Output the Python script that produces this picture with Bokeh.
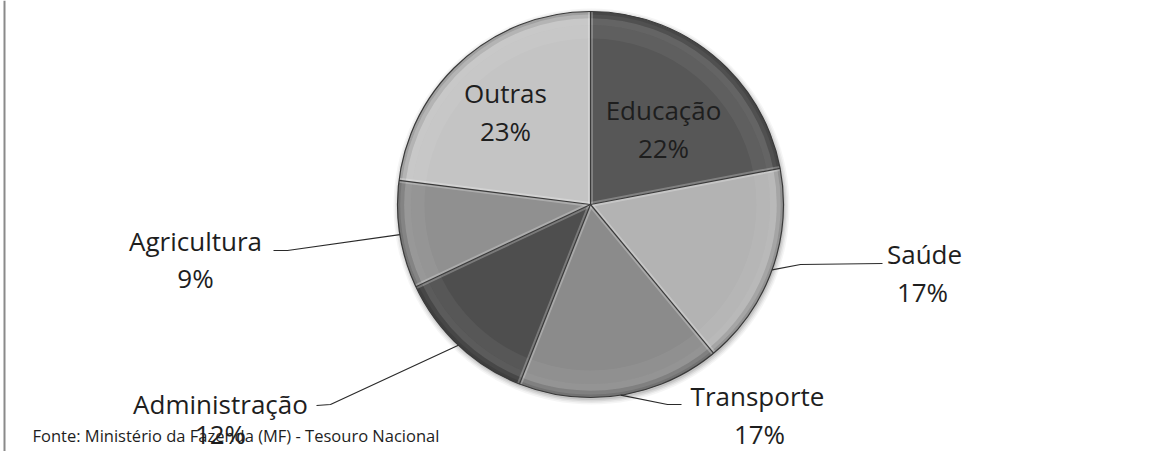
import numpy as np
from bokeh.plotting import figure
from bokeh.models import Range1d, ColumnDataSource
from bokeh.core.properties import value
from bokeh.embed import file_html
from bokeh.resources import INLINE

# ---------------- data ----------------
categories = ["Educação", "Saúde", "Transporte", "Administração", "Agricultura", "Outras"]
shares = [22, 17, 17, 12, 9, 23]
pct_labels = ["22%", "17%", "17%", "12%", "9%", "23%"]
source_note = "Fonte: Ministério da Fazenda (MF) - Tesouro Nacional"

# ---------------- style / layout ----------------
colors = ["#575757", "#b3b3b3", "#8b8b8b", "#4e4e4e", "#909090", "#c4c4c4"]
W, H = 1151, 451
FONT = "Open Sans"
LABEL_PX = 26
NOTE_PX = 16.5
BASE_SHIFT = 0.35  # em: correction between requested and drawn baseline

# image-space helpers (y grows downward in the image)
def px(x):
    return x

def py(y, size=0):
    return H - (y - BASE_SHIFT * size)

CX, CY, R = px(590), H - 204, 193

# label layout in image pixels: (name_x, name_baseline, pct_x, pct_baseline)
label_layout = {
    "Educação": (663, 119, 663, 157),
    "Saúde": (924, 263, 922, 301),
    "Transporte": (757, 405, 759, 443),
    "Administração": (220, 413, 220, 443),
    "Agricultura": (195, 250, 195, 287),
    "Outras": (505, 102, 505, 140),
}
# leader lines (elbow, end) in image pixels
leader_layout = {
    "Saúde": [(800, 264), (882, 263)],
    "Transporte": [(667, 404), (681, 404)],
    "Administração": [(330, 404), (316, 405)],
    "Agricultura": [(287, 250), (273, 250)],
}

p = figure(width=W, height=H, x_range=Range1d(0, W), y_range=Range1d(0, H),
           output_backend="svg", toolbar_location=None, min_border=0)
p.axis.visible = False
p.grid.visible = False
p.outline_line_color = None
p.background_fill_color = "white"
p.border_fill_color = "white"

# left frame line
p.segment(x0=[4], y0=[H], x1=[4], y1=[0], line_color="#8a8a8a", line_width=2)

# soft shadow around the pie
for k, a in enumerate([0.04, 0.05, 0.07, 0.09]):
    p.circle(x=[CX + 1], y=[CY - 2], radius=R + 5 - k * 1.5, fill_color="#000000",
             fill_alpha=a, line_color=None)

vals = np.array(shares, dtype=float)
frac = vals / vals.sum()
cum_end = np.cumsum(frac)
cum_start = cum_end - frac
start_ang = np.pi / 2 - 2 * np.pi * cum_start
end_ang = np.pi / 2 - 2 * np.pi * cum_end
mid_ang = (start_ang + end_ang) / 2

src = ColumnDataSource(dict(cat=categories, start=start_ang, end=end_ang, color=colors))
p.wedge(x=CX, y=CY, radius=R, start_angle="start", end_angle="end", direction="clock",
        fill_color="color", line_color=None, source=src)

# bevel: faint light band inside the rim, darkening toward the rim
for r0, r1, c, a in [(0.86, 0.93, "#ffffff", 0.05), (0.93, 0.965, "#ffffff", 0.08),
                     (0.965, 0.985, "#000000", 0.08), (0.985, 1.0, "#000000", 0.18)]:
    p.annular_wedge(x=CX, y=CY, inner_radius=R * r0, outer_radius=R * r1,
                    start_angle="start", end_angle="end", direction="clock",
                    fill_color=c, fill_alpha=a, line_color=None, source=src)

# slice edges: dark line with a light highlight next to it
bx = CX + R * np.cos(start_ang)
by = CY + R * np.sin(start_ang)
p.segment(x0=[CX] * len(bx), y0=[CY] * len(by), x1=list(bx), y1=list(by),
          line_color="#ffffff", line_alpha=0.25, line_width=5)
p.segment(x0=[CX] * len(bx), y0=[CY] * len(by), x1=list(bx), y1=list(by),
          line_color="#3a3a3a", line_width=1.2)
p.circle(x=[CX], y=[CY], radius=R, fill_color=None, line_color="#3a3a3a", line_width=1.2)

# leader lines
for i, cat in enumerate(categories):
    if cat not in leader_layout:
        continue
    sx = CX + R * np.cos(mid_ang[i])
    sy = CY + R * np.sin(mid_ang[i])
    pts = leader_layout[cat]
    xs = [sx] + [px(a) for a, _ in pts]
    ys = [sy] + [H - b for _, b in pts]
    p.line(xs, ys, line_color="#2a2a2a", line_width=1.2)

# labels
for i, cat in enumerate(categories):
    nx, ny, qx, qy = label_layout[cat]
    p.text(x=[px(nx)], y=[py(ny, LABEL_PX)], text=[cat], text_align="center",
           text_baseline="alphabetic", text_font=value(FONT),
           text_font_size=f"{LABEL_PX}px", text_color="#1e1e1e")
    p.text(x=[px(qx)], y=[py(qy, LABEL_PX)], text=[pct_labels[i]], text_align="center",
           text_baseline="alphabetic", text_font=value(FONT),
           text_font_size=f"{LABEL_PX}px", text_color="#1e1e1e")

p.text(x=[px(32)], y=[py(441, NOTE_PX)], text=[source_note], text_align="left",
       text_baseline="alphabetic", text_font=value(FONT), text_font_size=f"{NOTE_PX}px",
       text_color="#1e1e1e")

open("out.html", "w").write(file_html(p, INLINE))
